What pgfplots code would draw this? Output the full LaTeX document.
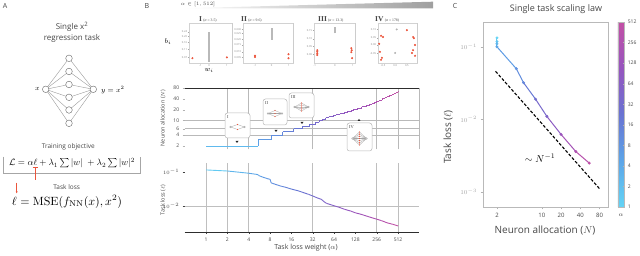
\documentclass[border=0pt]{standalone}
\usepackage{graphicx}
\usepackage[no-math]{fontspec}
\setmainfont{Open Sans}
\newfontfamily\serif{Liberation Serif}
\usepackage{pgfplots}
\pgfplotsset{compat=1.18}
\usetikzlibrary{arrows.meta}
\definecolor{redpt}{RGB}{235,85,60}
\definecolor{txtg}{RGB}{70,70,70}
\pgfplotsset{colormap={alphamap}{rgb255(0)=(100,212,245) rgb255(1)=(92,165,232) rgb255(2)=(105,115,210) rgb255(3)=(150,85,190) rgb255(4)=(195,80,165)}}
\pgfplotsset{mini/.style={scale only axis, anchor=south west, xmin=0,xmax=1,ymin=0,ymax=1,
  axis line style={gray!35, line width=0.4pt}, tick style={gray!70, line width=0.3pt},
  major tick length=1.2pt, tick align=outside, xtick pos=bottom, ytick pos=left,
  tick label style={font=\fontsize{2.6}{3}\selectfont, text=gray, inner sep=0.6pt}}}
\newcommand{\netbox}[7]{%
 \begin{scope}
 \pgfmathsetmacro\bx{#1}\pgfmathsetmacro\by{256-#2}%
 \pgfmathsetmacro\cx{#1+#3/2}\pgfmathsetmacro\cy{256-#2-#4/2-1.5}%
 \draw[gray!55, fill=white, rounded corners=2.5pt, line width=0.5pt] (\bx,\by) rectangle ++(#3,-#4);
 \node[font={\serif\fontsize{4.5}{5}\selectfont}, anchor=north west, inner sep=0pt, text=txtg] at (\bx+2,\by-2) {#5};
 \foreach \i in {1,...,#6}{
   \pgfmathsetmacro\hy{\cy-#7+2*#7*(\i-1)/(#6-1)}
   \draw[gray!70, line width=0.3pt] (\cx-7,\cy) -- (\cx,\hy) -- (\cx+7,\cy);
 }
 \foreach \i in {1,...,#6}{
   \pgfmathsetmacro\hy{\cy-#7+2*#7*(\i-1)/(#6-1)}
   \fill[redpt] (\cx,\hy) circle (0.7);
 }
 \draw[gray!70, fill=white, line width=0.3pt] (\cx-7,\cy) circle (0.8) (\cx+7,\cy) circle (0.8);
 \end{scope}}
\begin{document}
\begin{tikzpicture}[x=1pt,y=1pt]
\path[use as bounding box] (0,0) rectangle (640,256);
% ---------------- panel labels
\node[font=\fontsize{7}{8}\selectfont, text=txtg] at (5,250) {A};
\node[font=\fontsize{7}{8}\selectfont, text=txtg] at (147,250) {B};
\node[font=\fontsize{7}{8}\selectfont, text=txtg] at (455,250) {C};
% ---------------- panel A
\node[font=\fontsize{8}{11.5}\selectfont, align=center, text=txtg] at (72,223.5) {Single x\textsuperscript{2}\\regression task};
\foreach \y in {58.3,71.5,84.5,97.3,110,123.3}{
  \draw[gray!80, line width=0.4pt] (45.7,166.7) -- (69,256-\y) -- (93.3,166.7);
}
\foreach \y in {58.3,71.5,84.5,97.3,110,123.3}{
  \draw[gray!80!black, fill=white, line width=0.4pt] (69,256-\y) circle (3.3);
}
\draw[gray!80!black, fill=white, line width=0.4pt] (45.7,166.7) circle (3.3) (93.3,166.7) circle (3.3);
\node[font=\fontsize{7}{8}\selectfont] at (37.5,166.7) {$x$};
\node[font=\fontsize{7}{8}\selectfont, anchor=west] at (97.5,166.2) {$y = x^2$};
\node[font=\fontsize{6.5}{7}\selectfont, text=txtg] at (68.3,109.3) {Training objective};
\draw[gray!70, line width=0.5pt] (3.3,99.3) -- (3.3,82.7) -- (140,82.7) -- (140,99.3);
\node[inner sep=0pt] at (72,92.7) {\resizebox{126pt}{!}{$\mathcal{L} = \alpha\ell + \lambda_1 \sum |w| \;+ \lambda_2 \sum |w|^2$}};
\draw[redpt, line width=0.5pt] (32.5,89) -- (37.5,89) (35,89) -- (35,76);
\draw[redpt, line width=0.5pt, -{Latex[length=2pt,width=2pt]}] (16.7,73.3) -- (16.7,62.5);
\node[font=\fontsize{6.5}{7}\selectfont, text=txtg] at (66.7,69.3) {Task loss};
\node[inner sep=0pt] at (67,54.3) {\resizebox{110pt}{!}{$\ell = \mathrm{MSE}(f_{\mathrm{NN}}(x), x^2)$}};
% ---------------- panel B : top band
\shade[left color=white, right color=gray!75] (183,247.7) -- (433,247.7) -- (433,254.3) -- cycle;
\node[font=\fontsize{5.5}{6}\selectfont, text=txtg] at (198,251.5) {$\alpha \in [1, 512]$};
% mini plots
\begin{axis}[mini, at={(189pt,193pt)}, width=43pt, height=40pt,
  xtick={0.26,0.47,0.88}, xticklabels={-1,0,1},
  ytick={0.14,0.34,0.52,0.66,0.78}, yticklabels={0.07,0.11,0.16,0.20,0.24}]
\addplot[gray!55, line width=2pt] coordinates {(0.47,0.03) (0.47,0.78)};
\addplot[only marks, mark=*, mark size=0.8pt, redpt] coordinates {(0.08,0.12) (0.88,0.14)};
\draw[gray!70, line width=0.5pt] (rel axis cs:1,0) -- (rel axis cs:1,1);
\end{axis}
\begin{axis}[mini, at={(243pt,193pt)}, width=50pt, height=40pt,
  xtick={0.24,0.57,0.91}, xticklabels={-1,0,1},
  ytick={0.14,0.28,0.45,0.59,0.74,0.84}, yticklabels={0.005,0.010,0.015,0.020,0.025,0.030}]
\addplot[gray!55, line width=2pt] coordinates {(0.57,0.58) (0.57,0.87)};
\addplot[only marks, mark=*, mark size=0.8pt, redpt] coordinates {(0.24,0.15) (0.24,0.18) (0.91,0.22) (0.91,0.12)};
\draw[gray!70, line width=0.5pt] (rel axis cs:1,0) -- (rel axis cs:1,1);
\end{axis}
\begin{axis}[mini, at={(314pt,193pt)}, width=41pt, height=40pt,
  xtick={0.02,0.51,0.95}, xticklabels={-1,0,1},
  ytick={0.22,0.41,0.60,0.81}, yticklabels={0.00,0.05,0.10,0.15}]
\addplot[gray!55, line width=2pt] coordinates {(0.51,0.74) (0.51,0.89)};
\addplot[only marks, mark=*, mark size=0.8pt, redpt] coordinates {(0.08,0.32) (0.08,0.28) (0.08,0.24) (0.08,0.20) (0.91,0.37) (0.92,0.32) (0.91,0.27) (0.93,0.12)};
\draw[gray!70, line width=0.5pt] (rel axis cs:1,0) -- (rel axis cs:1,1);
\end{axis}
\begin{axis}[mini, at={(378pt,193pt)}, width=39pt, height=40pt,
  xtick={0.13,0.44,0.74}, xticklabels={-0.5,0.0,0.5},
  ytick={0.24,0.45,0.63,0.84}, yticklabels={-0.05,0.00,0.05,0.10}]
\addplot[only marks, mark=*, mark size=0.8pt, gray!60] coordinates {(0.48,0.84) (0.44,0.25)};
\addplot[only marks, mark=*, mark size=0.8pt, redpt] coordinates {(0.08,0.68) (0.13,0.65) (0.03,0.48) (0.05,0.28) (0.10,0.13) (0.08,0.08) (0.74,0.82) (0.90,0.65) (0.92,0.62) (0.95,0.45) (0.90,0.32) (0.87,0.25) (0.95,0.18)};
\draw[gray!70, line width=0.5pt] (rel axis cs:1,0) -- (rel axis cs:1,1);
\end{axis}
\node[anchor=west, inner sep=0pt, text=txtg] at (199,237) {\serif\fontsize{7.5}{8}\selectfont\bfseries I\,\mdseries\fontsize{3.8}{4}\selectfont(\textit{α} = 3.5)};
\node[anchor=west, inner sep=0pt, text=txtg] at (241,237) {\serif\fontsize{7.5}{8}\selectfont\bfseries II\,\mdseries\fontsize{3.8}{4}\selectfont(\textit{α} = 9.6)};
\node[anchor=west, inner sep=0pt, text=txtg] at (318,237) {\serif\fontsize{7.5}{8}\selectfont\bfseries III\,\mdseries\fontsize{3.8}{4}\selectfont(\textit{α} = 13.3)};
\node[anchor=west, inner sep=0pt, text=txtg] at (375,237) {\serif\fontsize{7.5}{8}\selectfont\bfseries IV\,\mdseries\fontsize{3.8}{4}\selectfont(\textit{α} = 178)};
\node[font=\fontsize{7}{8}\selectfont] at (209,186) {$w_i$};
\node[font=\fontsize{7}{8}\selectfont] at (168,214) {$b_i$};
% ---------------- panel B : middle (neuron allocation)
\begin{axis}[at={(184.7pt,106.5pt)}, anchor=south west, scale only axis,
  width=234.7pt, height=61.5pt,
  xmode=log, log basis x=2, ymode=log, log basis y=2,
  xmin=0.5, xmax=1024, ymin=1.6, ymax=80,
  axis x line*=top, axis y line*=left,
  x axis line style={gray!35!black, line width=0.6pt}, y axis line style={draw=none},
  xtick={2,4,32,256,512,1024}, xticklabels={}, xmajorgrids, major x tick style={draw=none},
  ytick={2,4,6,10,20,40,80}, yticklabels={2,4,6,10,20,40,80},
  extra y ticks={4,6,10}, extra y tick labels={}, extra y tick style={grid=major, major tick length=0pt},
  grid style={gray!55, line width=0.6pt},
  y tick label style={font=\fontsize{5}{6}\selectfont, text=txtg},
  major y tick style={gray!60, line width=0.4pt},
  tick align=outside, major tick length=2pt,
  point meta min=0, point meta max=9, colormap name=alphamap]
\addplot[mesh, line width=0.9pt, point meta={ln(\thisrow{a})/ln(2)}] table {
a n
1 2
5.46 2
5.46 3
8.28 3
8.28 4
12.13 4
12.13 5
17.15 5
17.15 6
22.63 6
22.63 7
28.84 7
28.84 8
35.5 8
35.5 9
39.4 9
39.4 10
43.7 10
43.7 11
48.5 11
48.5 12
53.8 12
53.8 13
61.8 13
61.8 14
68.6 14
68.6 15
78.8 15
78.8 16
90.5 16
90.5 17
100.4 17
100.4 18
111.4 18
111.4 19
119.4 19
119.4 20
128 20
128 21
137.2 21
137.2 22
157.6 22
157.6 24
181 24
181 26
200.9 26
200.9 28
222.9 28
222.9 30
238.9 30
238.9 32
256 32
256 34
280.1 34
280.1 37
304.4 37
304.4 40
330.8 40
330.8 43
354.6 43
354.6 46
388 46
388 50
421.7 50
421.7 54
455.1 54
455.1 58
484.4 58
484.4 62
512 62
512 67
};
\end{axis}
\node[rotate=90, font=\fontsize{5.5}{6}\selectfont, text=txtg] at (163,138) {Neuron allocation ($N$)};
% insets
\netbox{225}{113}{25}{25}{I}{2}{2.5}
\netbox{263}{99}{24}{26}{II}{3}{3}
\netbox{289}{93}{25}{25}{III}{5}{4}
\netbox{347}{123}{25}{28}{IV}{7}{6.5}
\fill[gray!30!black] (235.5,115) -- (238.5,115) -- (237,113) -- cycle;
\fill[gray!30!black] (274.5,126) -- (277.5,126) -- (276,124) -- cycle;
\fill[gray!30!black] (300.5,134) -- (303.5,134) -- (302,132) -- cycle;
\fill[gray!30!black] (357.5,135) -- (360.5,135) -- (359,137) -- cycle;
% ---------------- panel B : bottom (task loss)
\begin{axis}[at={(184.7pt,24pt)}, anchor=south west, scale only axis,
  width=234.7pt, height=69pt,
  xmode=log, log basis x=2, ymode=log,
  xmin=0.5, xmax=1024, ymin=0.00172, ymax=0.184,
  axis x line*=bottom, axis y line*=left,
  x axis line style={gray!35!black, line width=0.6pt}, y axis line style={draw=none},
  xtick={1,2,4,8,16,32,64,128,256,512}, xticklabels={1,2,4,8,16,32,64,128,256,512},
  extra x ticks={1,2,4,32,256,512}, extra x tick labels={}, extra x tick style={grid=major, major tick length=0pt},
  ytick={0.1,0.01}, yticklabels={$10^{-1}$,$10^{-2}$},
  extra y ticks={0.01}, extra y tick labels={}, extra y tick style={grid=major, major tick length=0pt},
  grid style={gray!50, line width=0.6pt},
  tick label style={font=\fontsize{5}{6}\selectfont, text=txtg},
  major tick style={gray!50!black, line width=0.4pt},
  tick align=outside, major tick length=2pt,
  point meta min=0, point meta max=9, colormap name=alphamap]
\addplot[mesh, line width=0.9pt, point meta={ln(\thisrow{a})/ln(2)}] table {
a l
1 0.115
2 0.107
4 0.092
5.4 0.084
5.5 0.079
6.4 0.070
7.5 0.063
8.0 0.061
8.3 0.048
9.3 0.044
11.6 0.038
13 0.036
16.4 0.031
20 0.028
23.4 0.025
28 0.022
32 0.0197
38 0.017
42.4 0.0157
46 0.0135
50 0.0120
63.7 0.0102
75 0.0092
90 0.0080
110 0.0071
128 0.0063
150 0.0058
182 0.0051
220 0.0045
256 0.0041
300 0.0037
359 0.0032
430 0.0029
512 0.0026
};
\end{axis}
\node[rotate=90, font=\fontsize{5.5}{6}\selectfont, text=txtg] at (163,56) {Task loss ($\ell$)};
\node[font=\fontsize{7}{8}\selectfont, text=txtg] at (306,8) {Task loss weight ($\alpha$)};
% ---------------- panel C
\node[font=\fontsize{9}{10}\selectfont, text=txtg] at (556,247) {Single task scaling law};
\begin{axis}[at={(483pt,49pt)}, anchor=south west, scale only axis,
  width=125pt, height=185pt,
  xmode=log, ymode=log,
  xmin=1.21, xmax=108, ymin=6.2e-4, ymax=0.22,
  axis line style={gray!55, line width=0.5pt},
  xtick={2,10,20,40,80}, xticklabels={2,10,20,40,80},
  ytick={0.1,0.01,0.001}, yticklabels={$10^{-1}$,$10^{-2}$,$10^{-3}$},
  tick label style={font=\fontsize{6}{7}\selectfont, text=txtg},
  y tick label style={text=gray!70},
  tick style={gray!60, line width=0.4pt},
  xtick pos=bottom, ytick pos=left, tick align=outside,
  major tick length=2.5pt, minor tick length=1.5pt,
  colormap name=alphamap, point meta min=0, point meta max=9,
  colorbar right,
  colorbar shift/.style={xshift=9.5pt},
  colorbar style={width=6.5pt, ytick={0,...,9}, yticklabels={1,2,4,8,16,32,64,128,256,512},
    tick label style={font=\fontsize{5}{6}\selectfont, text=txtg}, axis line style={gray!55},
    major tick length=1.5pt, tick style={gray!60}}]
\addplot[black, line width=1.1pt, dash pattern=on 3pt off 1.8pt] coordinates {(1.9,0.046) (81,0.00109)};
\addplot[mesh, line width=1pt, point meta=explicit] table[meta=m] {
N L m
2 0.133 0
2 0.118 0.8
2 0.110 1.5
2 0.100 2.2
4 0.050 3.1
5.2 0.032 3.6
8 0.019 4.9
12 0.011 5.6
20 0.0062 6.9
34 0.0036 8
55 0.0025 8.8
};
\addplot[scatter, only marks, mark=*, mark size=1.3pt, scatter src=explicit,
  scatter/use mapped color={draw=mapped color, fill=mapped color}] table[meta=m] {
N L m
2 0.133 0
2 0.118 0.8
2 0.110 1.5
2 0.100 2.2
4 0.050 3.1
5.2 0.032 3.6
8 0.019 4.9
12 0.011 5.6
20 0.0062 6.9
34 0.0036 8
55 0.0025 8.8
};
\node[font=\fontsize{10}{12}\selectfont] at (axis cs:9.4,0.0029) {$\sim N^{-1}$};
\end{axis}
\node[font=\fontsize{6}{7}\selectfont, text=txtg] at (621,41) {$\alpha$};
\node[font=\fontsize{10}{12}\selectfont, text=txtg] at (545,26) {Neuron allocation ($N$)};
\node[rotate=90, font=\fontsize{10}{12}\selectfont, text=txtg] at (448,119) {Task loss ($\ell$)};
\end{tikzpicture}
\end{document}
